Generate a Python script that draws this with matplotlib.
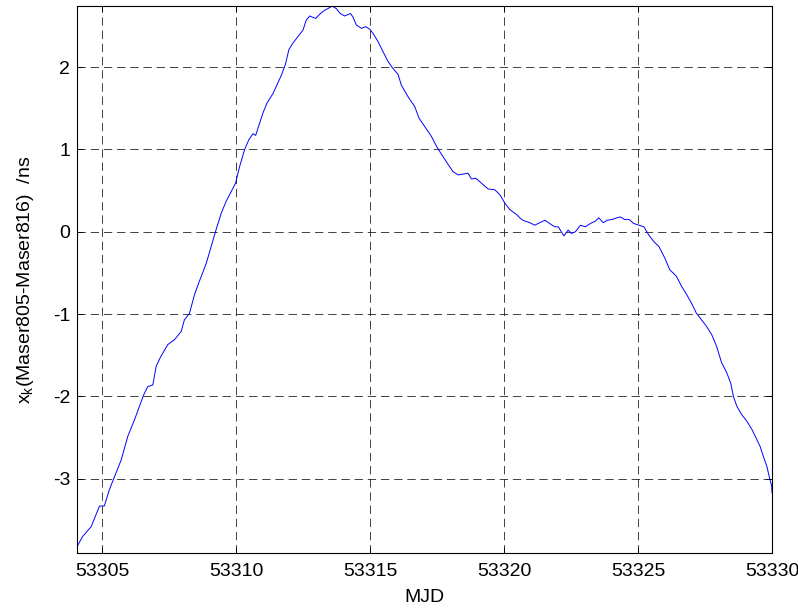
import matplotlib
matplotlib.use('Agg')
import matplotlib.pyplot as plt

plt.rcParams['font.family'] = ['Liberation Sans', 'DejaVu Sans']
plt.rcParams['mathtext.fontset'] = 'custom'
plt.rcParams['mathtext.rm'] = 'Liberation Sans'
plt.rcParams['mathtext.it'] = 'Liberation Sans'
plt.rcParams['mathtext.default'] = 'regular'
plt.rcParams['axes.unicode_minus'] = False
plt.rcParams['lines.scale_dashes'] = False

# time difference between the two masers, MJD vs ns
mjd = [53304.02, 53304.26, 53304.58, 53304.89, 53305.07, 53305.26, 53305.42, 53305.70,
       53305.95, 53306.20, 53306.38, 53306.54, 53306.69, 53306.88, 53307.01, 53307.17,
       53307.44, 53307.69, 53307.94, 53308.06, 53308.25, 53308.44, 53308.62, 53308.88,
       53309.06, 53309.22, 53309.44, 53309.62, 53309.81, 53309.97, 53310.12, 53310.31,
       53310.47, 53310.62, 53310.72, 53310.87, 53310.99, 53311.14, 53311.37, 53311.51,
       53311.68, 53311.83, 53311.96, 53312.11, 53312.30, 53312.49, 53312.61, 53312.74,
       53312.96, 53313.14, 53313.30, 53313.42, 53313.58, 53313.73, 53313.88, 53314.04,
       53314.26, 53314.35, 53314.48, 53314.67, 53314.83, 53314.98, 53315.10, 53315.29,
       53315.47, 53315.66, 53315.83, 53316.04, 53316.16, 53316.41, 53316.66, 53316.82,
       53317.03, 53317.28, 53317.47, 53317.66, 53317.84, 53318.09, 53318.28, 53318.46,
       53318.65, 53318.78, 53318.94, 53319.15, 53319.40, 53319.65, 53319.84, 53320.02,
       53320.21, 53320.46, 53320.65, 53320.77, 53320.96, 53321.14, 53321.33, 53321.52,
       53321.70, 53321.89, 53322.02, 53322.23, 53322.39, 53322.51, 53322.66, 53322.85,
       53323.03, 53323.22, 53323.41, 53323.53, 53323.70, 53323.85, 53324.04, 53324.22,
       53324.34, 53324.49, 53324.66, 53324.84, 53325.03, 53325.22, 53325.40, 53325.59,
       53325.78, 53326.00, 53326.18, 53326.43, 53326.62, 53326.81, 53327.00, 53327.18,
       53327.37, 53327.56, 53327.75, 53327.93, 53328.12, 53328.31, 53328.46, 53328.56,
       53328.69, 53328.87, 53329.06, 53329.25, 53329.43, 53329.56, 53329.68, 53329.81,
       53329.91, 53329.99, 53330.00]
xk = [-3.84, -3.70, -3.58, -3.33, -3.33, -3.13, -3.00, -2.77,
      -2.48, -2.28, -2.12, -1.98, -1.88, -1.86, -1.63, -1.52,
      -1.37, -1.31, -1.21, -1.07, -0.99, -0.76, -0.60, -0.38,
      -0.18, 0.00, 0.23, 0.37, 0.49, 0.59, 0.79, 1.00,
      1.12, 1.19, 1.17, 1.32, 1.44, 1.56, 1.68, 1.78,
      1.90, 2.03, 2.21, 2.29, 2.37, 2.45, 2.57, 2.62,
      2.59, 2.65, 2.69, 2.71, 2.74, 2.71, 2.65, 2.62,
      2.65, 2.61, 2.51, 2.47, 2.49, 2.46, 2.41, 2.31,
      2.19, 2.07, 1.99, 1.91, 1.78, 1.64, 1.52, 1.38,
      1.28, 1.16, 1.04, 0.94, 0.85, 0.73, 0.69, 0.70,
      0.71, 0.64, 0.65, 0.59, 0.52, 0.51, 0.45, 0.35,
      0.27, 0.21, 0.15, 0.13, 0.11, 0.08, 0.11, 0.14,
      0.10, 0.06, 0.06, -0.05, 0.02, -0.02, 0.00, 0.08,
      0.06, 0.10, 0.13, 0.17, 0.11, 0.14, 0.15, 0.17,
      0.18, 0.15, 0.15, 0.10, 0.08, 0.06, -0.04, -0.12,
      -0.18, -0.32, -0.46, -0.54, -0.66, -0.76, -0.87, -0.99,
      -1.07, -1.15, -1.25, -1.39, -1.59, -1.71, -1.84, -2.00,
      -2.12, -2.22, -2.30, -2.40, -2.52, -2.61, -2.73, -2.85,
      -2.99, -3.09, -3.17]

xticks = [53305, 53310, 53315, 53320, 53325, 53330]
yticks = [-3, -2, -1, 0, 1, 2]

fig = plt.figure(figsize=(7.98, 6.09), dpi=100)
ax = fig.add_axes([0.0965, 0.092, 0.8709, 0.898])
ax.plot(mjd, xk, color='#0000ff', lw=0.7)

ax.set_xlim(53304.05, 53330)
ax.set_ylim(-3.90, 2.74)
ax.set_xticks(xticks)
ax.set_yticks(yticks)
ax.ticklabel_format(useOffset=False, style='plain')
ax.tick_params(direction='in', length=4, width=0.6, labelsize=14, top=True, right=True,
               labeltop=False, labelright=False)
ax.tick_params(axis='x', pad=7)
ax.tick_params(axis='y', pad=5)
ax.grid(True, color='#222222', lw=0.6, linestyle=(0, (6, 3.5)))
for s in ax.spines.values():
    s.set_linewidth(0.8)

ax.set_xlabel('MJD', fontsize=14, labelpad=7)
ax.set_ylabel(r'x$_k$(Maser805-Maser816)  /ns', fontsize=14, labelpad=12)

plt.savefig('out.png', dpi=100)
plt.close()
